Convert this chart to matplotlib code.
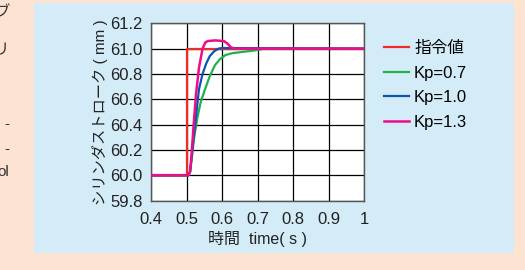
import numpy as np
import matplotlib.pyplot as plt

plt.rcParams['font.family'] = ['Liberation Sans', 'Noto Sans CJK JP', 'DejaVu Sans']

# command value
t_cmd = [0.4, 0.5, 0.5, 1.0]
y_cmd = [60.0, 60.0, 61.0, 61.0]

# Kp=0.7
t_k07 = [0.4, 0.505, 0.51, 0.515, 0.52, 0.53, 0.54, 0.552, 0.565, 0.58, 0.595, 0.61, 0.63, 0.66, 0.69, 0.72, 1.0]
y_k07 = [60.0, 60.0, 60.03, 60.15, 60.27, 60.45, 60.58, 60.68, 60.78, 60.87, 60.92, 60.95, 60.965, 60.975, 60.985, 61.0, 61.0]

# Kp=1.0
t_k10 = [0.4, 0.505, 0.51, 0.515, 0.52, 0.528, 0.535, 0.545, 0.555, 0.565, 0.578, 0.59, 0.6, 1.0]
y_k10 = [60.0, 60.0, 60.03, 60.15, 60.3, 60.5, 60.68, 60.8, 60.88, 60.94, 60.98, 61.0, 61.005, 61.0]

# Kp=1.3
t_k13 = [0.4, 0.505, 0.51, 0.515, 0.52, 0.527, 0.535, 0.545, 0.553, 0.56, 0.58, 0.605, 0.615, 0.625, 0.635, 1.0]
y_k13 = [60.0, 60.0, 60.03, 60.2, 60.4, 60.65, 60.85, 61.0, 61.05, 61.06, 61.065, 61.06, 61.04, 61.01, 61.0, 61.0]

xticks = [0.4, 0.5, 0.6, 0.7, 0.8, 0.9, 1.0]
xtick_labels = ['0.4', '0.5', '0.6', '0.7', '0.8', '0.9', '1']
yticks = [59.8, 60.0, 60.2, 60.4, 60.6, 60.8, 61.0, 61.2]

W, H = 525, 270
fig = plt.figure(figsize=(W / 100, H / 100), dpi=100)
fig.patch.set_facecolor('#fde3d2')

# light blue panel (background axes)
bg = fig.add_axes([34 / W, 1 - 253 / H, (514 - 34) / W, (253 - 3) / H])
bg.set_facecolor('#d3ecf8')
bg.set_xticks([])
bg.set_yticks([])
for s in bg.spines.values():
    s.set_visible(False)

# cut-off text from neighbouring column
for txt, yy in [('ブ', 12), ('リ', 50), ('-', 124), ('-', 149), ('ol', 172)]:
    fig.text(9 / W, 1 - yy / H, txt, ha='right', va='center', fontsize=11, color='#333333')

ax = fig.add_axes([151 / W, 1 - 200.7 / H, (364.3 - 151) / W, (200.7 - 23.3) / H])
ax.set_facecolor('white')

ax.plot(t_cmd, y_cmd, color='#ee2c2c', lw=1.6, label='指令値', zorder=3)
ax.plot(t_k07, y_k07, color='#1fb14a', lw=1.6, label='Kp=0.7', zorder=3)
ax.plot(t_k10, y_k10, color='#0b55b0', lw=1.6, label='Kp=1.0', zorder=3)
ax.plot(t_k13, y_k13, color='#ec0c8c', lw=1.8, label='Kp=1.3', zorder=4)

ax.set_xlim(0.4, 1.0)
ax.set_ylim(59.8, 61.2)
ax.set_xticks(xticks)
ax.set_xticklabels(xtick_labels)
ax.set_yticks(yticks)
ax.set_yticklabels(['%.1f' % v for v in yticks])
ax.grid(color='black', lw=0.9)
ax.tick_params(length=0, labelsize=12, colors='#222222')
ax.tick_params(axis='x', pad=8)
ax.tick_params(axis='y', pad=6)
for s in ax.spines.values():
    s.set_color('#555555')
    s.set_linewidth(1.0)

ax.set_xlabel('時間  time( s )', fontsize=11.5, color='#222222', labelpad=3)
ax.set_ylabel('シリンダストローク ( mm )', fontsize=11, color='#222222', labelpad=2)

leg = ax.legend(loc='upper left', bbox_to_anchor=(384 / W, 1 - 41 / H),
                bbox_transform=fig.transFigure, frameon=False, borderpad=0,
                borderaxespad=0, fontsize=12, handlelength=1.5,
                handletextpad=0.3, labelspacing=0.57)

fig.savefig('out.png', dpi=100, facecolor=fig.get_facecolor())
